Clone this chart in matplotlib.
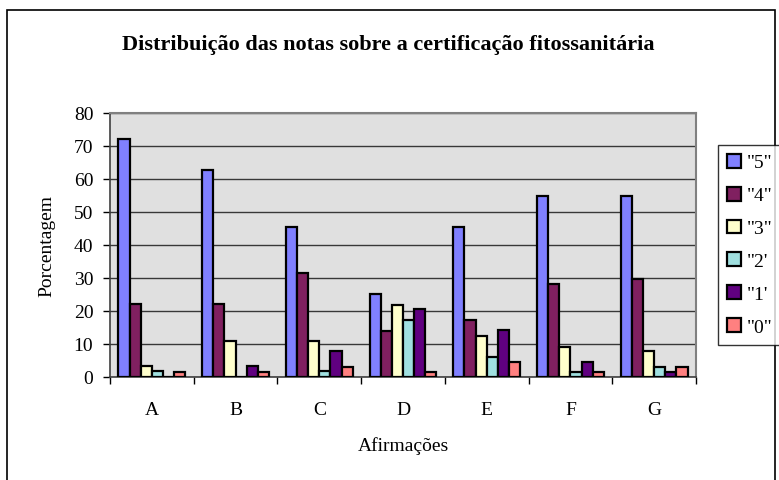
import numpy as np
import matplotlib
matplotlib.use('Agg')
import matplotlib.pyplot as plt
from matplotlib.patches import Patch, Rectangle

# 数据
categories = ['A', 'B', 'C', 'D', 'E', 'F', 'G']
series_labels = ['"5"', '"4"', '"3"', '"2\'', '"1\'', '"0"']
nota_5 = [72, 62.7, 45.4, 25.2, 45.4, 54.8, 54.8]
nota_4 = [22, 22, 31.4, 14, 17.4, 28.2, 29.6]
nota_3 = [3.2, 11, 11, 21.9, 12.4, 9.2, 7.8]
nota_2 = [1.7, 0, 1.7, 17.4, 6.1, 1.6, 3.1]
nota_1 = [0, 3.2, 7.8, 20.5, 14.1, 4.6, 1.6]
nota_0 = [1.6, 1.6, 3.1, 1.6, 4.6, 1.6, 3.1]
colors = ['#8080FF', '#802060', '#FFFFCC', '#A0E0E0', '#600080', '#FF8080']

plt.rcParams['font.family'] = ['Liberation Serif', 'DejaVu Serif']

fig = plt.figure(figsize=(7.79, 4.81), dpi=100)
ax = fig.add_axes([110 / 779, 103 / 481, 586 / 779, 264 / 481])
ax.set_facecolor('#E0E0E0')

series = [nota_5, nota_4, nota_3, nota_2, nota_1, nota_0]
n = len(series)
width = 1 / 7.5
x = np.arange(len(categories))
for i, vals in enumerate(series):
    offs = (i - (n - 1) / 2) * width
    ax.bar(x + offs, vals, width, color=colors[i], edgecolor='black',
           linewidth=1.6, zorder=3)

ax.set_xlim(-0.5, len(categories) - 0.5)
ax.set_ylim(0, 80)
ax.set_yticks(range(0, 81, 10))
ax.set_xticks(x)
ax.set_xticklabels(categories)
ax.set_xticks(np.arange(-0.5, len(categories), 1), minor=True)
ax.tick_params(axis='x', which='major', length=0, pad=17, labelsize=14)
ax.tick_params(axis='x', which='minor', length=5, width=1, color='black')
ax.tick_params(axis='y', length=5, width=1, labelsize=14, pad=7)
ax.grid(axis='y', color='#383838', linewidth=1, zorder=1)

for side in ['top', 'right']:
    ax.spines[side].set_color('#808080')
    ax.spines[side].set_linewidth(1.5)
for side in ['left', 'bottom']:
    ax.spines[side].set_color('#404040')
    ax.spines[side].set_linewidth(1.2)

ax.set_ylabel('Porcentagem', fontsize=14, labelpad=13)
ax.set_xlabel('Afirmações', fontsize=14, labelpad=13)

fig.text(388 / 779, 1 - 45 / 481, 'Distribuição das notas sobre a certificação fitossanitária',
         ha='center', va='center', fontsize=16, fontweight='bold')

handles = [Patch(facecolor=c, edgecolor='black', linewidth=1.6) for c in colors]
leg = fig.legend(handles, series_labels, loc='upper left',
                 bbox_to_anchor=(718 / 779, 1 - 146 / 481), fontsize=14,
                 frameon=True, fancybox=False, handlelength=0.72, handleheight=0.72,
                 handletextpad=0.3, labelspacing=0.78, borderpad=0.45,
                 borderaxespad=0)
leg.get_frame().set_edgecolor('black')
leg.get_frame().set_linewidth(1)

# 外框
fig.patches.append(Rectangle((7 / 779, -0.1), 768 / 779, 1.1 - 11 / 481,
                             transform=fig.transFigure, fill=False,
                             edgecolor='black', linewidth=1.2))

plt.savefig('out.png', dpi=100)
